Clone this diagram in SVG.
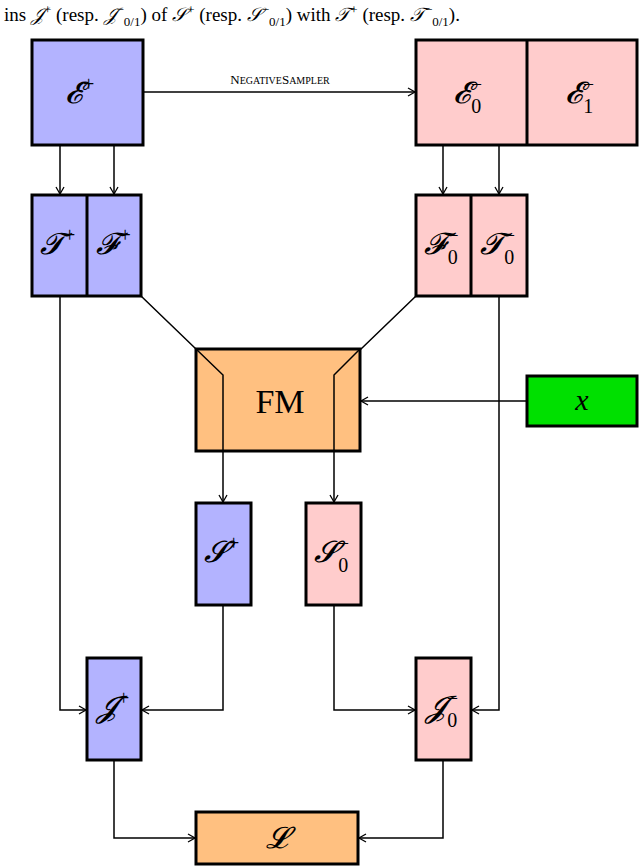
<svg xmlns="http://www.w3.org/2000/svg" width="640" height="867" viewBox="0 0 640 867">
<style>
.b{stroke:#000;stroke-width:3}
.blue{fill:#b3b3ff}.pink{fill:#ffcccc}.orange{fill:#ffc080}.green{fill:#00e000}
text{font-family:"Liberation Serif",serif;fill:#000}
.m{font-size:30px;font-style:italic;text-anchor:middle}
.c{stroke:#000;stroke-width:1.5;fill:none}
sub{font-size:18px}
</style>
<defs><marker id="a" markerWidth="10" markerHeight="10" refX="8" refY="5" orient="auto" markerUnits="userSpaceOnUse"><path d="M1,1 L8,5 L1,9" fill="none" stroke="#000" stroke-width="1.3"/></marker></defs>
<text x="4" y="21" font-size="19">ins <tspan font-style="italic">𝒥</tspan><tspan font-size="13" dy="-7">+</tspan><tspan dy="7"> (resp. </tspan><tspan font-style="italic">𝒥</tspan><tspan font-size="13" dy="-7">−</tspan><tspan font-size="13" dy="12">0/1</tspan><tspan dy="-5">) of </tspan><tspan font-style="italic">𝒮</tspan><tspan font-size="13" dy="-7">+</tspan><tspan dy="7"> (resp. </tspan><tspan font-style="italic">𝒮</tspan><tspan font-size="13" dy="-7">−</tspan><tspan font-size="13" dy="12">0/1</tspan><tspan dy="-5">) with </tspan><tspan font-style="italic">𝒯</tspan><tspan font-size="13" dy="-7">+</tspan><tspan dy="7"> (resp. </tspan><tspan font-style="italic">𝒯</tspan><tspan font-size="13" dy="-7">−</tspan><tspan font-size="13" dy="12">0/1</tspan><tspan dy="-5">).</tspan></text>
<g id="connectors">
<line class="c" x1="143" y1="92" x2="415" y2="92" marker-end="url(#a)"/>
<text x="280" y="84" font-size="13" text-anchor="middle">N<tspan font-size="10">EGATIVE</tspan>S<tspan font-size="10">AMPLER</tspan></text>
<line class="c" x1="60" y1="145" x2="60" y2="194" marker-end="url(#a)"/>
<line class="c" x1="114" y1="145" x2="114" y2="194" marker-end="url(#a)"/>
<line class="c" x1="443" y1="145" x2="443" y2="194" marker-end="url(#a)"/>
<line class="c" x1="499" y1="145" x2="499" y2="194" marker-end="url(#a)"/>
<polyline class="c" points="141,296 223,375 223,502" marker-end="url(#a)"/>
<polyline class="c" points="416,296 334,375 334,502" marker-end="url(#a)"/>
<line class="c" x1="527" y1="401" x2="361" y2="401" marker-end="url(#a)"/>
<polyline class="c" points="60,296 60,710 86,710" marker-end="url(#a)"/>
<polyline class="c" points="223,605 223,710 142,710" marker-end="url(#a)"/>
<polyline class="c" points="334,605 334,710 415,710" marker-end="url(#a)"/>
<polyline class="c" points="499,296 499,710 472,710" marker-end="url(#a)"/>
<polyline class="c" points="114,760 114,838 195,838" marker-end="url(#a)"/>
<polyline class="c" points="443,760 443,838 359,838" marker-end="url(#a)"/>
</g>
<g id="Eplus"><rect class="b blue" x="32" y="40" width="111" height="105"/><text class="m" x="80" y="103">𝓔<tspan font-size="20" dy="-12">+</tspan></text></g>
<g id="Eminus"><rect class="b pink" x="416" y="40" width="221" height="105"/><line class="b" x1="527" y1="40" x2="527" y2="145"/>
<text class="m" x="468" y="103">𝓔<tspan font-size="20" dy="-12">−</tspan><tspan font-size="20" font-style="normal" dx="-12" dy="22">0</tspan></text>
<text class="m" x="580" y="103">𝓔<tspan font-size="20" dy="-12">−</tspan><tspan font-size="20" font-style="normal" dx="-12" dy="22">1</tspan></text></g>
<g id="TFplus"><rect class="b blue" x="32" y="195" width="109" height="101"/><line class="b" x1="87" y1="195" x2="87" y2="296"/>
<text class="m" x="58" y="254">𝓣<tspan font-size="20" dy="-12">+</tspan></text><text class="m" x="114" y="254">𝓕<tspan font-size="20" dy="-12">+</tspan></text></g>
<g id="FTminus"><rect class="b pink" x="416" y="195" width="111" height="101"/><line class="b" x1="471" y1="195" x2="471" y2="296"/>
<text class="m" x="442" y="254">𝓕<tspan font-size="20" dy="-12">−</tspan><tspan font-size="20" font-style="normal" dx="-12" dy="22">0</tspan></text>
<text class="m" x="498" y="254">𝓣<tspan font-size="20" dy="-12">−</tspan><tspan font-size="20" font-style="normal" dx="-12" dy="22">0</tspan></text></g>
<g id="FM"><rect class="b orange" x="196" y="349" width="164" height="102"/>
<polyline class="c" points="196,349 223,375 223,451"/><polyline class="c" points="360,349 334,375 334,451"/>
<text x="280" y="413" font-size="34" text-anchor="middle">FM</text></g>
<g id="x"><rect class="b green" x="527" y="376" width="110" height="50"/><text class="m" x="582" y="410">x</text></g>
<g id="Splus"><rect class="b blue" x="196" y="503" width="55" height="102"/><text class="m" x="222" y="562">𝓢<tspan font-size="20" dy="-12">+</tspan></text></g>
<g id="Sminus"><rect class="b pink" x="306" y="503" width="55" height="102"/><text class="m" x="332" y="562">𝓢<tspan font-size="20" dy="-12">−</tspan><tspan font-size="20" font-style="normal" dx="-12" dy="22">0</tspan></text></g>
<g id="Jplus"><rect class="b blue" x="87" y="658" width="54" height="102"/><text class="m" x="113" y="717">𝓙<tspan font-size="20" dy="-12">+</tspan></text></g>
<g id="Jminus"><rect class="b pink" x="416" y="658" width="55" height="102"/><text class="m" x="442" y="717">𝓙<tspan font-size="20" dy="-12">−</tspan><tspan font-size="20" font-style="normal" dx="-12" dy="22">0</tspan></text></g>
<g id="L"><rect class="b orange" x="196" y="812" width="162" height="52"/><text class="m" x="277" y="848">𝓛</text></g>
</svg>
